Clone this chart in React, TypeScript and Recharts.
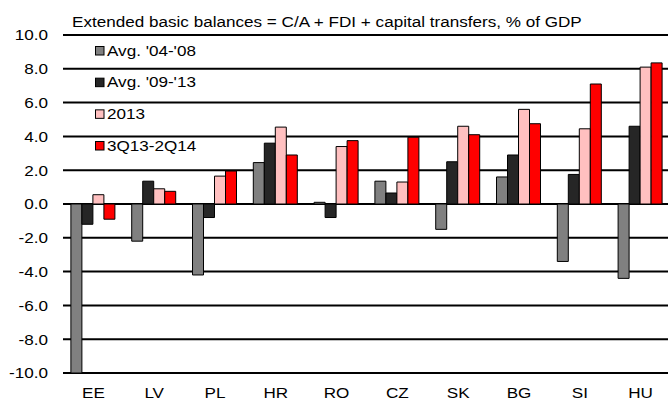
import React from 'react';
import { BarChart, Bar, XAxis, YAxis, CartesianGrid, Customized } from 'recharts';

const categories = ['EE', 'LV', 'PL', 'HR', 'RO', 'CZ', 'SK', 'BG', 'SI', 'HU'];
const seriesNames = ["Avg. '04-'08", "Avg. '09-'13", '2013', '3Q13-2Q14'];
const avg0408 = [-10.0, -2.2, -4.2, 2.45, 0.1, 1.35, -1.5, 1.6, -3.4, -4.4];
const avg0913 = [-1.2, 1.35, -0.8, 3.6, -0.8, 0.65, 2.5, 2.9, 1.75, 4.6];
const y2013 = [0.55, 0.9, 1.65, 4.55, 3.4, 1.3, 4.6, 5.6, 4.45, 8.1];
const q3q13q2q14 = [-0.9, 0.75, 1.95, 2.9, 3.75, 3.95, 4.1, 4.75, 7.1, 8.35];
const yTicks = [-10, -8, -6, -4, -2, 0, 2, 4, 6, 8, 10];
const title = 'Extended basic balances = C/A + FDI + capital transfers, % of GDP';

const colors = ['#808080', '#262626', '#FFC0C0', '#FF0000'];
const keys = ['a', 'b', 'c', 'd'];
const seriesValues = [avg0408, avg0913, y2013, q3q13q2q14];

const data = categories.map((c, i) => ({
  name: c,
  a: avg0408[i],
  b: avg0913[i],
  c: y2013[i],
  d: q3q13q2q14[i],
}));

const FONT = '"Liberation Sans", Arial, sans-serif';
const SX = 1.14;

const YTick = (props: any) => {
  const { x, y, payload } = props;
  return (
    <text
      transform={`translate(${x - 15},${y}) scale(${SX},1)`}
      x={0}
      y={0}
      dy="0.36em"
      textAnchor="end"
      fontSize={15}
      fontFamily={FONT}
      fill="#000"
    >
      {Number(payload.value).toFixed(1)}
    </text>
  );
};

const XTick = (props: any) => {
  const { x, y, payload } = props;
  return (
    <text
      transform={`translate(${x},${y + 25}) scale(${SX},1)`}
      x={0}
      y={0}
      textAnchor="middle"
      fontSize={15}
      fontFamily={FONT}
      fill="#000"
    >
      {payload.value}
    </text>
  );
};

const Overlay = () => (
  <g>
    <text
      transform={`translate(72,26.5) scale(${SX},1)`}
      x={0}
      y={0}
      fontSize={15}
      fontFamily={FONT}
      fill="#000"
    >
      {title}
    </text>
    {seriesNames.map((n, i) => {
      const top = 46.5 + i * 31.67;
      return (
        <g key={n}>
          <rect x={95.5} y={top} width={8.5} height={8.5} fill={colors[i]} stroke="#000" strokeWidth={1} />
          <text
            transform={`translate(107,${top + 9.2}) scale(${SX},1)`}
            x={0}
            y={0}
            fontSize={15}
            fontFamily={FONT}
            fill="#000"
          >
            {n}
          </text>
        </g>
      );
    })}
  </g>
);

export default function App() {
  return (
    <div style={{ position: 'absolute', left: 0, top: 0, width: 668, height: 401, overflow: 'hidden', background: '#fff' }}>
      <BarChart
        width={680}
        height={401}
        data={data}
        margin={{ top: 35, right: 9, bottom: 0, left: 0 }}
        barCategoryGap="13%"
        barGap={0}
      >
        <CartesianGrid horizontal={true} vertical={false} stroke="#000" strokeWidth={2} strokeOpacity={1} />
        <XAxis
          dataKey="name"
          axisLine={false}
          tickLine={false}
          tickSize={0}
          tickMargin={0}
          height={28}
          interval={0}
          tick={XTick}
        />
        <YAxis
          domain={[-10, 10]}
          ticks={yTicks}
          axisLine={false}
          tickLine={false}
          tickSize={0}
          tickMargin={0}
          width={63}
          interval={0}
          tick={YTick}
        />
        {keys.map((k, i) => (
          <Bar key={k} dataKey={k} name={seriesNames[i]} fill={colors[i]} stroke="#000" strokeWidth={1} isAnimationActive={false} />
        ))}
        <Customized component={Overlay} />
      </BarChart>
    </div>
  );
}
